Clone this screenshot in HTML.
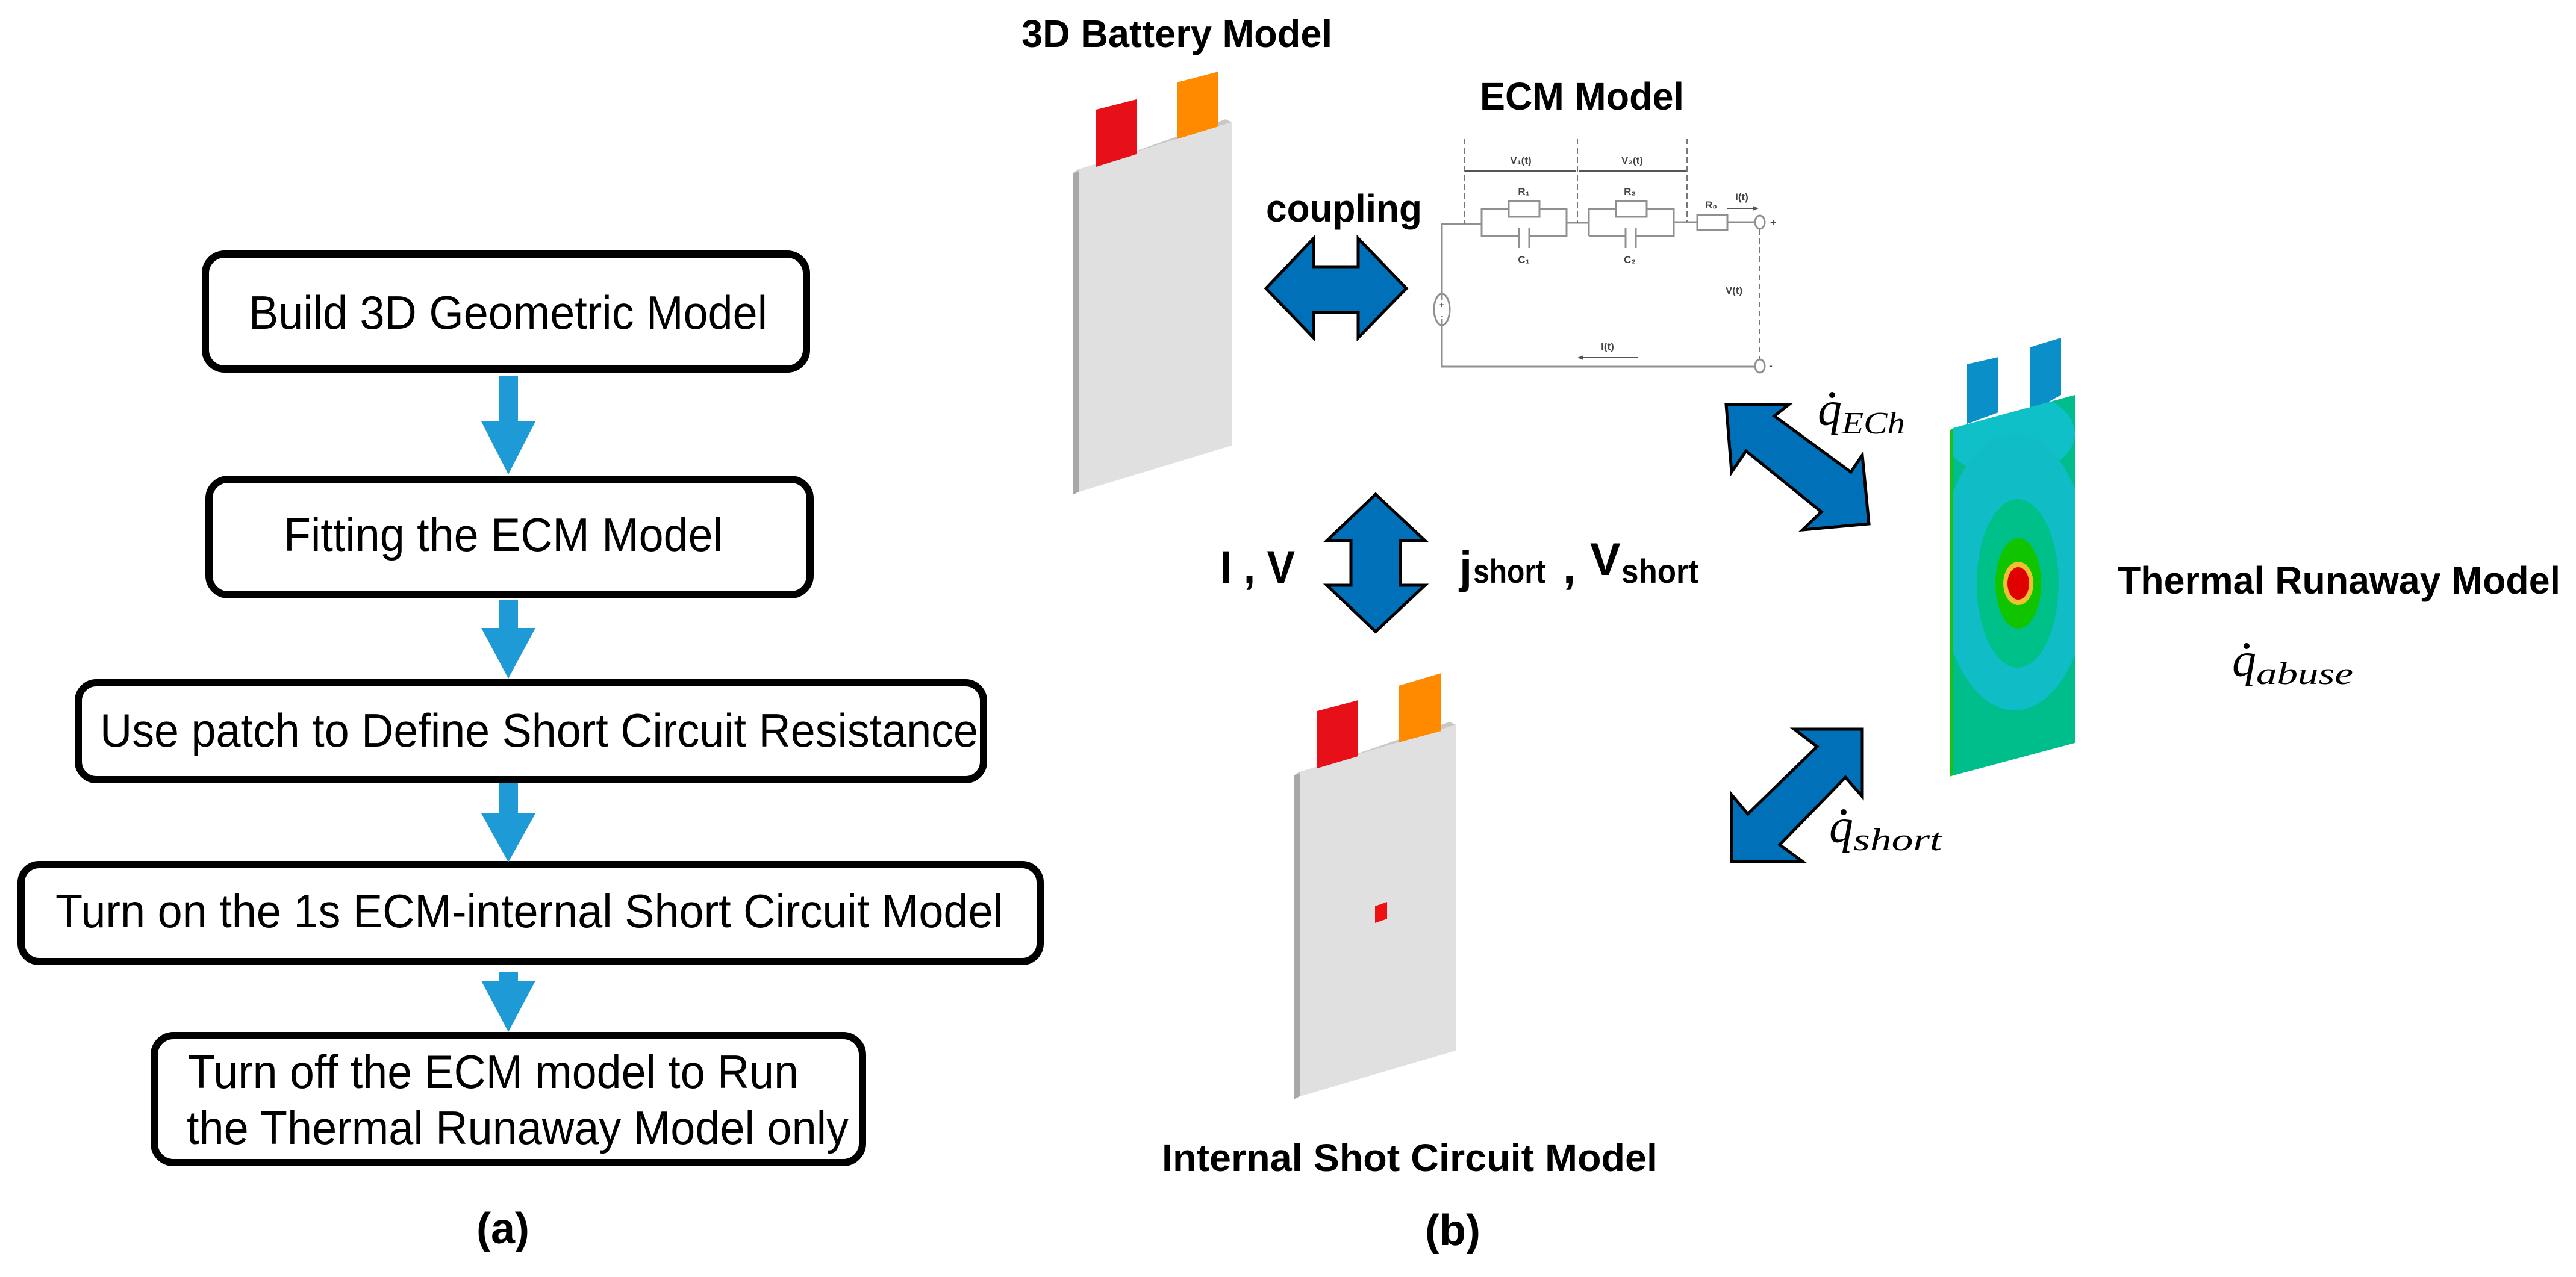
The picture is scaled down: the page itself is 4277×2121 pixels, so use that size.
<!DOCTYPE html>
<html><head><meta charset="utf-8"><style>
html,body{margin:0;padding:0;background:#fff;}
svg{display:block;}
</style></head><body>
<svg width="4277" height="2121" viewBox="0 0 4277 2121" xmlns="http://www.w3.org/2000/svg">
<rect width="4277" height="2121" fill="#fff"/>

<!-- Flowchart (a) -->
<g fill="none" stroke="#000" stroke-width="12">
<rect x="341" y="422" width="998" height="191" rx="32"/>
<rect x="347" y="796" width="998" height="192" rx="32"/>
<rect x="130" y="1134" width="1503" height="161" rx="30"/>
<rect x="35" y="1436" width="1692" height="161" rx="30"/>
<rect x="256" y="1720" width="1176" height="211" rx="32"/>
</g>
<g fill="#1e9bd7">
<polygon points="828,625 860,625 860,700 889,700 844,788 799,700 828,700"/>
<polygon points="828,997 860,997 860,1043 889,1043 844,1127 799,1043 828,1043"/>
<polygon points="828,1301 860,1301 860,1351 889,1351 844,1432 799,1351 828,1351"/>
<polygon points="828,1615 860,1615 860,1629 889,1629 844,1714 799,1629 828,1629"/>
</g>
<g font-family="Liberation Sans, sans-serif" font-size="78" fill="#000">
<text x="413" y="546" textLength="861" lengthAdjust="spacingAndGlyphs">Build 3D Geometric Model</text>
<text x="471" y="915" textLength="729" lengthAdjust="spacingAndGlyphs">Fitting the ECM Model</text>
<text x="166" y="1240" textLength="1458" lengthAdjust="spacingAndGlyphs">Use patch to Define Short Circuit Resistance</text>
<text x="92" y="1540" textLength="1573" lengthAdjust="spacingAndGlyphs">Turn on the 1s ECM-internal Short Circuit Model</text>
<text x="312" y="1807" textLength="1014" lengthAdjust="spacingAndGlyphs">Turn off the ECM model to Run</text>
<text x="310" y="1900" textLength="1099" lengthAdjust="spacingAndGlyphs">the Thermal Runaway Model only</text>
</g>
<text x="835" y="2065" font-family="Liberation Sans, sans-serif" font-weight="bold" font-size="72" text-anchor="middle">(a)</text>
<text x="2412" y="2068" font-family="Liberation Sans, sans-serif" font-weight="bold" font-size="72" text-anchor="middle">(b)</text>

<!-- titles -->
<g font-family="Liberation Sans, sans-serif" font-weight="bold" font-size="64" fill="#000">
<text x="1696" y="78" textLength="516" lengthAdjust="spacingAndGlyphs">3D Battery Model</text>
<text x="2457" y="182" textLength="339" lengthAdjust="spacingAndGlyphs">ECM Model</text>
<text x="2102" y="368" textLength="259" lengthAdjust="spacingAndGlyphs">coupling</text>
<text x="3516" y="986" textLength="735" lengthAdjust="spacingAndGlyphs">Thermal Runaway Model</text>
<text x="1929" y="1945" textLength="823" lengthAdjust="spacingAndGlyphs">Internal  Shot Circuit  Model</text>
</g>
<g font-family="Liberation Sans, sans-serif" font-weight="bold" fill="#000">
<text x="2026" y="968" font-size="76" textLength="124" lengthAdjust="spacingAndGlyphs">I , V</text>
<text x="2423" y="968" font-size="76">j</text>
<text x="2446" y="968" font-size="56" textLength="120" lengthAdjust="spacingAndGlyphs">short</text>
<text x="2595" y="968" font-size="76">,</text>
<text x="2640" y="955" font-size="76">V</text>
<text x="2692" y="968" font-size="56" textLength="128" lengthAdjust="spacingAndGlyphs">short</text>
</g>

<!-- Battery 1 -->
<polygon points="1781,288 1791,281 1791,817 1781,822" fill="#a8a8a8"/>
<polygon points="1781,288 2035,198 2045,203 1791,281" fill="#c8c8c8"/>
<polygon points="1791,281 2045,203 2045,740 1791,817" fill="#e0e0e0"/>
<polygon points="1820,182 1887,165 1887,256 1820,277" fill="#e81018"/>
<polygon points="1954,137 2023,119 2023,210 1954,231" fill="#ff8a00"/>

<!-- Battery 2 -->
<polygon points="2148,1288 2158,1282 2158,1821 2148,1826" fill="#a8a8a8"/>
<polygon points="2148,1288 2407,1199 2417,1204 2158,1282" fill="#c8c8c8"/>
<polygon points="2158,1282 2417,1204 2417,1745 2158,1821" fill="#e0e0e0"/>
<polygon points="2187,1181 2255,1163 2255,1256 2187,1276" fill="#e81018"/>
<polygon points="2322,1139 2393,1118 2393,1214 2322,1233" fill="#ff8a00"/>
<polygon points="2283,1505 2303,1498 2303,1526 2283,1533" fill="#ee1111"/>

<!-- Thermal cell -->
<polygon points="3266,605 3318,593 3318,685 3266,704" fill="#0a8fc8"/>
<polygon points="3370,577 3422,561 3422,656 3370,685" fill="#0a8fc8"/>
<clipPath id="face"><polygon points="3243,711 3445,656 3445,1234 3243,1288"/></clipPath>
<polygon points="3237,715 3243,711 3243,1288 3237,1290" fill="#1cc010"/>
<g clip-path="url(#face)">
<rect x="3200" y="600" width="300" height="750" fill="#00bd8c"/>
<ellipse cx="3335" cy="720" rx="110" ry="70" fill="#10c0c8"/>
<ellipse cx="3345" cy="950" rx="125" ry="230" fill="#10bcc6"/>
<ellipse cx="3350" cy="969" rx="68" ry="140" fill="#00c08a"/>
<ellipse cx="3351" cy="969" rx="38" ry="75" fill="#10c400"/>
<ellipse cx="3351" cy="969" rx="25" ry="36" fill="#f0c030"/>
<ellipse cx="3351" cy="969" rx="18" ry="27" fill="#e00000"/>
</g>

<!-- Double arrows -->
<g fill="#0070b8" stroke="#000" stroke-width="5" stroke-linejoin="miter">
<polygon points="2102,479 2181,396 2181,443 2255,443 2255,396 2335,479 2255,561 2255,519 2181,519 2181,561"/>
<polygon points="2284,821 2366,898 2325,898 2325,972 2366,972 2284,1049 2203,972 2243,972 2243,898 2203,898"/>
<polygon points="2866,672 2970,672 2946,691 3073,784 3092,756 3103,870 2993,880 3024,850 2899,749 2875,784"/>
<polygon points="2979,1211 3092,1211 3092,1323 3064,1291 2955,1403 2993,1431 2875,1431 2875,1320 2902,1352 3017,1240"/>
</g>

<!-- q dot labels -->
<g font-family="Liberation Serif, serif" font-style="italic" fill="#000">
<text x="3018" y="706" font-size="80">q</text><circle cx="3042" cy="656" r="5"/>
<text x="3058" y="720" font-size="52" textLength="105" lengthAdjust="spacingAndGlyphs">ECh</text>
<text x="3706" y="1123" font-size="80">q</text><circle cx="3730" cy="1073" r="5"/>
<text x="3746" y="1136" font-size="52" textLength="161" lengthAdjust="spacingAndGlyphs">abuse</text>
<text x="3037" y="1399" font-size="80">q</text><circle cx="3061" cy="1349" r="5"/>
<text x="3077" y="1412" font-size="52" textLength="147" lengthAdjust="spacingAndGlyphs">short</text>
</g>

<!-- ECM circuit -->
<g fill="none" stroke="#909090" stroke-width="3">
<polyline points="2394,498 2394,372 2460,372"/>
<polyline points="2394,530 2394,609 2914,609"/>
<ellipse cx="2394" cy="514" rx="13" ry="26"/>
<polyline points="2460,372 2460,347 2505,347"/>
<polyline points="2556,347 2601,347 2601,392 2539,392"/>
<polyline points="2460,372 2460,392 2522,392"/>
<rect x="2505" y="334" width="51" height="26"/>
<line x1="2522" y1="379" x2="2522" y2="412"/><line x1="2539" y1="379" x2="2539" y2="412"/>
<line x1="2601" y1="370" x2="2638" y2="370"/>
<polyline points="2638,392 2638,347 2683,347"/>
<polyline points="2734,347 2779,347 2779,392 2716,392"/>
<polyline points="2638,392 2699,392"/>
<rect x="2683" y="334" width="51" height="26"/>
<line x1="2699" y1="379" x2="2699" y2="412"/><line x1="2716" y1="379" x2="2716" y2="412"/>
<line x1="2779" y1="369" x2="2818" y2="369"/>
<rect x="2818" y="357" width="50" height="25"/>
<line x1="2868" y1="369" x2="2914" y2="369"/>
<ellipse cx="2922" cy="369" rx="8" ry="11"/>
<ellipse cx="2922" cy="608" rx="8" ry="11"/>
</g>
<g stroke="#777" stroke-width="2" stroke-dasharray="9,6" fill="none">
<line x1="2431" y1="231" x2="2431" y2="372"/>
<line x1="2619" y1="231" x2="2619" y2="370"/>
<line x1="2801" y1="231" x2="2801" y2="369"/>
<line x1="2922" y1="381" x2="2922" y2="597"/>
</g>
<g stroke="#555" stroke-width="2">
<line x1="2433" y1="284" x2="2617" y2="284"/>
<line x1="2621" y1="284" x2="2799" y2="284"/>
<line x1="2867" y1="346" x2="2915" y2="346"/>
<line x1="2626" y1="594" x2="2720" y2="594"/>
</g>
<g fill="#555"><polygon points="2920,346 2910,342 2910,350"/><polygon points="2619,594 2629,590 2629,598"/></g>
<g font-family="Liberation Sans, sans-serif" font-size="17" fill="#444" text-anchor="middle" font-weight="bold">
<text x="2525" y="272">V₁(t)</text><text x="2710" y="272">V₂(t)</text>
<text x="2530" y="324">R₁</text><text x="2706" y="324">R₂</text>
<text x="2841" y="346">R₀</text><text x="2892" y="333">I(t)</text>
<text x="2530" y="437">C₁</text><text x="2706" y="437">C₂</text>
<text x="2879" y="488">V(t)</text><text x="2669" y="581">I(t)</text>
<text x="2944" y="375">+</text><text x="2940" y="613">-</text>
<text x="2394" y="511" font-size="14">+</text><text x="2394" y="530" font-size="14">-</text>
</g>
</svg>
</body></html>
